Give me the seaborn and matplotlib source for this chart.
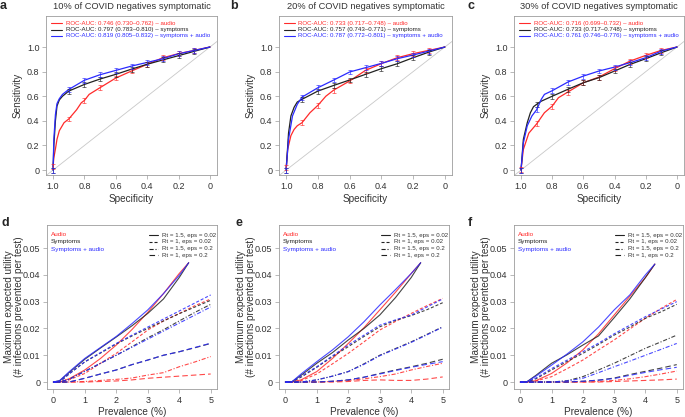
import numpy as np
import pandas as pd
import matplotlib
matplotlib.use("Agg")
import matplotlib.pyplot as plt
import seaborn as sns

sns.set_theme(style="white")
plt.rcParams['font.family'] = ['Liberation Sans', 'DejaVu Sans']
plt.rcParams['lines.scale_dashes'] = False

# ---------------- data: ROC curves (specificity, sensitivity) ----------------
models = ["audio", "symptoms", "symptoms + audio"]
model_colors = {"audio": "#ff2a2a", "symptoms": "#222222", "symptoms + audio": "#2a2aff"}
roc_titles = ["10% of COVID negatives symptomatic",
              "20% of COVID negatives symptomatic",
              "30% of COVID negatives symptomatic"]
roc_auc_labels = [
    ["ROC-AUC: 0.746 (0.730\u20130.762) \u2013 audio",
     "ROC-AUC: 0.797 (0.783\u20130.810) \u2013 symptoms",
     "ROC-AUC: 0.819 (0.805\u20130.832) \u2013 symptoms + audio"],
    ["ROC-AUC: 0.733 (0.717\u20130.748) \u2013 audio",
     "ROC-AUC: 0.757 (0.743\u20130.771) \u2013 symptoms",
     "ROC-AUC: 0.787 (0.772\u20130.801) \u2013 symptoms + audio"],
    ["ROC-AUC: 0.716 (0.699\u20130.732) \u2013 audio",
     "ROC-AUC: 0.733 (0.717\u20130.748) \u2013 symptoms",
     "ROC-AUC: 0.761 (0.746\u20130.776) \u2013 symptoms + audio"],
]
ci_halfwidth = 0.02

spec_a_audio = [1.0, 0.995, 0.985, 0.975, 0.96, 0.93, 0.9, 0.85, 0.82, 0.8, 0.77, 0.7, 0.6, 0.5, 0.4, 0.3, 0.2, 0.1, 0.0]
sens_a_audio = [0.03, 0.1, 0.17, 0.25, 0.32, 0.385, 0.415, 0.49, 0.547, 0.566, 0.615, 0.67, 0.748, 0.805, 0.859, 0.913, 0.946, 0.973, 1.0]
spec_a_symp = [1.0, 0.995, 0.985, 0.975, 0.96, 0.94, 0.9, 0.8, 0.7, 0.6, 0.5, 0.4, 0.3, 0.2, 0.1, 0.0]
sens_a_symp = [0.0, 0.2, 0.4, 0.52, 0.57, 0.6, 0.642, 0.696, 0.74, 0.778, 0.82, 0.86, 0.895, 0.93, 0.965, 1.0]
spec_a_both = [1.0, 0.995, 0.985, 0.975, 0.96, 0.94, 0.9, 0.8, 0.7, 0.6, 0.5, 0.4, 0.3, 0.2, 0.1, 0.0]
sens_a_both = [0.0, 0.25, 0.45, 0.54, 0.58, 0.615, 0.655, 0.73, 0.775, 0.81, 0.845, 0.875, 0.905, 0.945, 0.972, 1.0]

spec_b_audio = [1.0, 0.99, 0.97, 0.95, 0.93, 0.9, 0.85, 0.8, 0.75, 0.7, 0.6, 0.5, 0.4, 0.3, 0.2, 0.1, 0.0]
sens_b_audio = [0.02, 0.17, 0.28, 0.33, 0.36, 0.385, 0.466, 0.526, 0.6, 0.65, 0.724, 0.81, 0.865, 0.913, 0.946, 0.973, 1.0]
spec_b_symp = [1.0, 0.985, 0.97, 0.95, 0.93, 0.9, 0.8, 0.7, 0.6, 0.5, 0.4, 0.3, 0.2, 0.1, 0.0]
sens_b_symp = [0.0, 0.3, 0.44, 0.51, 0.553, 0.575, 0.642, 0.688, 0.732, 0.778, 0.824, 0.864, 0.913, 0.959, 1.0]
spec_b_both = [1.0, 0.985, 0.96, 0.93, 0.9, 0.8, 0.7, 0.6, 0.5, 0.4, 0.3, 0.2, 0.1, 0.0]
sens_b_both = [0.0, 0.25, 0.44, 0.534, 0.593, 0.669, 0.732, 0.797, 0.832, 0.867, 0.905, 0.935, 0.967, 1.0]

spec_c_audio = [1.0, 0.985, 0.95, 0.9, 0.85, 0.8, 0.76, 0.7, 0.6, 0.5, 0.4, 0.3, 0.2, 0.1, 0.0]
sens_c_audio = [0.005, 0.168, 0.30, 0.375, 0.466, 0.52, 0.588, 0.634, 0.71, 0.756, 0.824, 0.886, 0.932, 0.973, 1.0]
spec_c_symp = [1.0, 0.985, 0.96, 0.94, 0.92, 0.9, 0.87, 0.8, 0.7, 0.6, 0.5, 0.4, 0.3, 0.2, 0.1, 0.0]
sens_c_symp = [0.0, 0.25, 0.385, 0.466, 0.515, 0.534, 0.56, 0.60, 0.656, 0.71, 0.751, 0.805, 0.859, 0.905, 0.954, 1.0]
spec_c_both = [1.0, 0.985, 0.96, 0.93, 0.9, 0.87, 0.85, 0.8, 0.7, 0.6, 0.5, 0.4, 0.3, 0.2, 0.1, 0.0]
sens_c_both = [0.0, 0.22, 0.36, 0.44, 0.49, 0.575, 0.615, 0.645, 0.715, 0.764, 0.805, 0.837, 0.873, 0.913, 0.967, 1.0]

roc_data = [
    {"audio": (spec_a_audio, sens_a_audio), "symptoms": (spec_a_symp, sens_a_symp), "symptoms + audio": (spec_a_both, sens_a_both)},
    {"audio": (spec_b_audio, sens_b_audio), "symptoms": (spec_b_symp, sens_b_symp), "symptoms + audio": (spec_b_both, sens_b_both)},
    {"audio": (spec_c_audio, sens_c_audio), "symptoms": (spec_c_symp, sens_c_symp), "symptoms + audio": (spec_c_both, sens_c_both)},
]

# ---------------- data: utility curves ----------------
scenarios = ["Rt = 1.5, eps = 0.02", "Rt = 1, eps = 0.02", "Rt = 1.5, eps = 0.2", "Rt = 1, eps = 0.2"]
prev_solid = [0, 0.2, 0.5, 1, 1.5, 2, 2.5, 3, 3.5, 4, 4.3]
prev = [0, 0.2, 0.5, 1, 1.5, 2, 2.5, 3, 3.5, 4, 4.5, 5]

util_d = {
    ("audio", 0): [0, 0, 0.0012, 0.0045, 0.0088, 0.0138, 0.0196, 0.026, 0.033, 0.0405, 0.0445],
    ("symptoms", 0): [0, 0.0005, 0.0035, 0.0085, 0.0127, 0.0168, 0.0210, 0.0256, 0.031, 0.039, 0.0445],
    ("symptoms + audio", 0): [0, 0.0005, 0.0038, 0.0088, 0.0129, 0.0170, 0.0218, 0.0269, 0.033, 0.0398, 0.0445],
    ("audio", 1): [0, 0, 0.0008, 0.0032, 0.007, 0.0107, 0.015, 0.0194, 0.0228, 0.0256, 0.0285, 0.031],
    ("symptoms", 1): [0, 0, 0.003, 0.0075, 0.0108, 0.0142, 0.0172, 0.020, 0.0228, 0.0255, 0.028, 0.0305],
    ("symptoms + audio", 1): [0, 0, 0.003, 0.0076, 0.011, 0.0144, 0.0175, 0.0205, 0.0235, 0.0265, 0.0295, 0.0325],
    ("audio", 2): [0, 0, 0, 0.0002, 0.0006, 0.001, 0.0015, 0.0026, 0.0035, 0.0057, 0.0075, 0.0095],
    ("symptoms", 2): [0, 0, 0.001, 0.004, 0.007, 0.010, 0.0132, 0.0165, 0.0195, 0.0228, 0.026, 0.029],
    ("symptoms + audio", 2): [0, 0, 0.001, 0.004, 0.007, 0.010, 0.013, 0.016, 0.019, 0.022, 0.025, 0.028],
    ("audio", 3): [0, 0, 0, 0, 0.0002, 0.0004, 0.0008, 0.0014, 0.0018, 0.0022, 0.0026, 0.003],
    ("symptoms", 3): [0, 0, 0, 0.0014, 0.003, 0.0045, 0.0065, 0.0082, 0.010, 0.0113, 0.0128, 0.0144],
    ("symptoms + audio", 3): [0, 0, 0, 0.0014, 0.003, 0.0045, 0.0065, 0.0082, 0.010, 0.0113, 0.0129, 0.0145],
}
util_e = {
    ("audio", 0): [0, 0, 0.0008, 0.0039, 0.0088, 0.0144, 0.0203, 0.0269, 0.0335, 0.0405, 0.0445],
    ("symptoms", 0): [0, 0, 0.0025, 0.007, 0.011, 0.0157, 0.020, 0.025, 0.0315, 0.039, 0.0445],
    ("symptoms + audio", 0): [0, 0, 0.003, 0.0076, 0.012, 0.0169, 0.0225, 0.0287, 0.0345, 0.0405, 0.0445],
    ("audio", 1): [0, 0, 0.0005, 0.003, 0.0068, 0.0107, 0.015, 0.0194, 0.0226, 0.0256, 0.0285, 0.0312],
    ("symptoms", 1): [0, 0, 0.0018, 0.0055, 0.0095, 0.0132, 0.017, 0.0206, 0.023, 0.0248, 0.027, 0.0296],
    ("symptoms + audio", 1): [0, 0, 0.0022, 0.0057, 0.0098, 0.0138, 0.0175, 0.0212, 0.0232, 0.025, 0.028, 0.031],
    ("audio", 2): [0, 0, 0, 0, 0.0002, 0.0006, 0.0012, 0.002, 0.003, 0.0045, 0.0058, 0.007],
    ("symptoms", 2): [0, 0, 0, 0.0008, 0.0022, 0.0039, 0.0068, 0.010, 0.0125, 0.015, 0.0178, 0.0206],
    ("symptoms + audio", 2): [0, 0, 0, 0.0008, 0.0022, 0.0039, 0.0066, 0.0098, 0.0123, 0.0148, 0.0176, 0.0205],
    ("audio", 3): [0, 0, 0, 0, 0, 0.0002, 0.0006, 0.0008, 0.0006, 0.0006, 0.0011, 0.0019],
    ("symptoms", 3): [0, 0, 0, 0, 0.0003, 0.0008, 0.0018, 0.0032, 0.0045, 0.0057, 0.007, 0.0085],
    ("symptoms + audio", 3): [0, 0, 0, 0, 0.0003, 0.0008, 0.0018, 0.0030, 0.0043, 0.0055, 0.0066, 0.0076],
}
util_f = {
    ("audio", 0): [0, 0, 0.0005, 0.0032, 0.0072, 0.012, 0.018, 0.025, 0.032, 0.039, 0.044],
    ("symptoms", 0): [0, 0, 0.0025, 0.007, 0.0102, 0.0138, 0.0172, 0.024, 0.031, 0.039, 0.044],
    ("symptoms + audio", 0): [0, 0, 0.0022, 0.0063, 0.0105, 0.015, 0.0205, 0.0269, 0.0325, 0.040, 0.044],
    ("audio", 1): [0, 0, 0.0004, 0.002, 0.005, 0.0082, 0.012, 0.0157, 0.0198, 0.0238, 0.0275, 0.0308],
    ("symptoms", 1): [0, 0, 0.0012, 0.0045, 0.0077, 0.0107, 0.014, 0.0175, 0.0205, 0.0238, 0.0262, 0.029],
    ("symptoms + audio", 1): [0, 0, 0.0015, 0.005, 0.0082, 0.0113, 0.0145, 0.018, 0.0212, 0.0244, 0.0272, 0.030],
    ("audio", 2): [0, 0, 0, 0, 0, 0, 0.0002, 0.0006, 0.0012, 0.002, 0.003, 0.0041],
    ("symptoms", 2): [0, 0, 0, 0, 0.0005, 0.002, 0.0045, 0.007, 0.0098, 0.0126, 0.015, 0.0175],
    ("symptoms + audio", 2): [0, 0, 0, 0, 0.0004, 0.0014, 0.0035, 0.0057, 0.0078, 0.010, 0.0122, 0.0144],
    ("audio", 3): [0, 0, 0, 0, 0, 0, 0, 0.0002, 0.0004, 0.0006, 0.0008, 0.0011],
    ("symptoms", 3): [0, 0, 0, 0, 0, 0.0003, 0.0007, 0.0015, 0.0028, 0.004, 0.0052, 0.0065],
    ("symptoms + audio", 3): [0, 0, 0, 0, 0, 0.0003, 0.0007, 0.0013, 0.0025, 0.0036, 0.0046, 0.0055],
}
util_data = [util_d, util_e, util_f]
color_legend = ["Audio", "Symptoms", "Symptoms + audio"]

roc_xticks = [1.0, 0.8, 0.6, 0.4, 0.2, 0.0]
roc_xticklabels = ["1.0", "0.8", "0.6", "0.4", "0.2", "0"]
roc_yticks = [0, 0.2, 0.4, 0.6, 0.8, 1.0]
roc_yticklabels = ["0", "0.2", "0.4", "0.6", "0.8", "1.0"]
ut_xticks = [0, 1, 2, 3, 4, 5]
ut_yticks = [0, 0.01, 0.02, 0.03, 0.04, 0.05]
ut_yticklabels = ["0", "0.01", "0.02", "0.03", "0.04", "0.05"]

# ---------------- styling ----------------
W, H = 685, 417
fig = plt.figure(figsize=(W / 100, H / 100), dpi=100)
FRAME = "#9c9c9c"
TXT = "#333333"
dash_map = {scenarios[0]: "", scenarios[1]: (2.2, 1.4), scenarios[2]: (3.0, 1.3, 0.8, 1.3), scenarios[3]: (4.0, 2.2)}


def add_axes(l, t, r, b):
    return fig.add_axes([l / W, 1 - b / H, (r - l) / W, (b - t) / H])


def style_axes(ax):
    for s in ax.spines.values():
        s.set_color(FRAME)
        s.set_linewidth(0.6)
    ax.tick_params(direction="out", length=3.2, width=0.5, color=FRAME,
                   labelcolor=TXT, labelsize=6.5, pad=1.5,
                   bottom=True, left=True, top=False, right=False)
    ax.grid(False)


def px_to_axes(ax, dx, dy):
    bb = ax.get_position()
    return dx / (bb.width * W), 1 - dy / (bb.height * H)


roc_boxes = [(46, 16, 217, 175), (279, 16, 452, 175), (514, 16, 684, 175)]
ut_boxes = [(47, 225, 217, 389), (279, 225, 449, 389), (514, 225, 683, 389)]
letters_top = [("a", 0, 9.3), ("b", 230, 9.3), ("c", 468, 9.3)]
letters_bot = [("d", 1, 226.5), ("e", 235, 226.5), ("f", 468, 226.5)]

# ---------------- ROC panels ----------------
for i, box in enumerate(roc_boxes):
    ax = add_axes(*box)
    style_axes(ax)
    rows = []
    for m in models:
        sp, se = roc_data[i][m]
        rows += [{"model": m, "spec": a, "sens": b} for a, b in zip(sp, se)]
    df = pd.DataFrame(rows)
    ax.axline((1, 0), (0, 1), color="#c8c8c8", lw=0.6, zorder=0)
    sns.lineplot(data=df, x="spec", y="sens", hue="model", hue_order=models,
                 palette=model_colors, estimator=None, sort=False, legend=False,
                 lw=0.9, ax=ax)
    for m in models:
        sub = df[df.model == m]
        sel = sub[np.isclose(sub.spec * 10, np.round(sub.spec * 10)) & (sub.spec > 0)]
        ax.errorbar(sel.spec, sel.sens, yerr=ci_halfwidth, fmt="none",
                    ecolor=model_colors[m], elinewidth=0.55, capsize=1.6,
                    capthick=0.55, alpha=0.8)
    ax.set_xlim(1.045, -0.045)
    ax.set_ylim(-0.04, 1.252)
    ax.set_xticks(roc_xticks, roc_xticklabels)
    ax.set_yticks(roc_yticks, roc_yticklabels)
    ax.set_xlabel("Specificity", fontsize=7.2, color=TXT)
    ax.set_ylabel("Sensitivity", fontsize=7.2, color=TXT)
    ax.xaxis.set_label_coords(0.5, -19 / (box[3] - box[1]))
    ax.yaxis.set_label_coords(-23 / (box[2] - box[0]), 0.5)
    ax.xaxis.label.set_va("top")
    # legend
    for k, m in enumerate(models):
        x0, y = px_to_axes(ax, 5, 7.3 + 6.3 * k)
        x1, _ = px_to_axes(ax, 16, 0)
        xt, _ = px_to_axes(ax, 19.5, 0)
        ax.plot([x0, x1], [y, y], transform=ax.transAxes, color=model_colors[m], lw=0.8)
        ax.text(xt, y, roc_auc_labels[i][k], transform=ax.transAxes, fontsize=4.45,
                color=model_colors[m], va="center", ha="left")
    fig.text((box[0] + box[2]) / 2 / W, 1 - 9.3 / H, roc_titles[i], ha="center",
             va="baseline", fontsize=6.7, color=TXT)
    L, lx, ly = letters_top[i]
    fig.text(lx / W, 1 - ly / H, L, fontsize=9, fontweight="bold", va="baseline", ha="left")

# ---------------- utility panels ----------------
for i, box in enumerate(ut_boxes):
    ax = add_axes(*box)
    style_axes(ax)
    rows = []
    for (m, s), vals in util_data[i].items():
        xs = prev_solid if s == 0 else prev
        rows += [{"model": m, "scenario": scenarios[s], "prev": a, "util": b} for a, b in zip(xs, vals)]
    df = pd.DataFrame(rows)
    sns.lineplot(data=df, x="prev", y="util", hue="model", hue_order=models,
                 palette=model_colors, style="scenario", style_order=scenarios,
                 dashes=dash_map, estimator=None, sort=True, legend=False,
                 lw=0.8, alpha=0.85, ax=ax)
    ax.set_xlim(-0.2, 5.2)
    ax.set_ylim(-0.0026, 0.0586)
    ax.set_xticks(ut_xticks, [str(t) for t in ut_xticks])
    ax.set_yticks(ut_yticks, ut_yticklabels)
    ax.set_xlabel("Prevalence (%)", fontsize=7.2, color=TXT)
    ax.set_ylabel("Maximum expected utility\n(# infections prevented per test)",
                  fontsize=7.2, color=TXT, linespacing=1.05)
    ax.xaxis.set_label_coords(0.5, -18 / (box[3] - box[1]))
    ax.xaxis.label.set_va("top")
    ax.yaxis.set_label_coords(-23 / (box[2] - box[0]), 0.5)
    # color legend
    for k, (lab, m) in enumerate(zip(color_legend, models)):
        x, y = px_to_axes(ax, 4, 10 + 7 * k)
        ax.text(x, y, lab, transform=ax.transAxes, fontsize=4.6,
                color=model_colors[m], va="center", ha="left")
    # line-style legend
    wpx = box[2] - box[0]
    for k, s in enumerate(scenarios):
        x0, y = px_to_axes(ax, wpx - 68, 10 + 6.8 * k)
        x1, _ = px_to_axes(ax, wpx - 59, 0)
        xt, _ = px_to_axes(ax, wpx - 55, 0)
        ln, = ax.plot([x0, x1], [y, y], transform=ax.transAxes, color="#222222", lw=0.8)
        if dash_map[s]:
            ln.set_dashes(dash_map[s])
        ax.text(xt, y, s, transform=ax.transAxes, fontsize=4.4, color=TXT,
                va="center", ha="left")
    L, lx, ly = letters_bot[i]
    fig.text(lx / W, 1 - ly / H, L, fontsize=9, fontweight="bold", va="baseline", ha="left")

fig.savefig("out.png", dpi=100)
